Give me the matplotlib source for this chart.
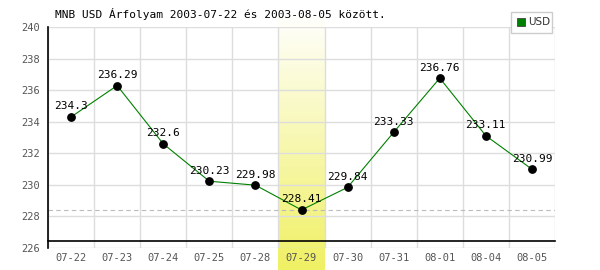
import numpy as np
import matplotlib.pyplot as plt
from matplotlib.patches import Rectangle

dates = ["07-22", "07-23", "07-24", "07-25", "07-28", "07-29",
         "07-30", "07-31", "08-01", "08-04", "08-05"]
rates = [234.3, 236.29, 232.6, 230.23, 229.98, 228.41,
         229.84, 233.33, 236.76, 233.11, 230.99]
labels = ["234.3", "236.29", "232.6", "230.23", "229.98", "228.41",
          "229.84", "233.33", "236.76", "233.11", "230.99"]
yticks = [226, 228, 230, 232, 234, 236, 238, 240]
min_idx = 5

mono = "DejaVu Sans Mono"

fig = plt.figure(figsize=(6, 2.7), dpi=100)
ax = fig.add_axes([0.08, 0.0815, 0.845, 0.8185])

x = np.arange(len(dates))
ax.set_xlim(-0.5, len(dates) - 0.5)
ax.set_ylim(226, 240)

# highlighted day: vertical gradient band (white on top, yellow at bottom)
grad = np.linspace(0, 1, 256).reshape(-1, 1, 1)
white = np.array([1.0, 1.0, 1.0])
yellow = np.array([240, 240, 100]) / 255
img = np.clip(white + (yellow - white) * grad, 0, 1)
ax.imshow(img, extent=(min_idx - 0.5, min_idx + 0.5, 224.55, 240.9),
          aspect="auto", origin="upper", zorder=0, clip_on=False)

# grid
for v in yticks:
    ax.axhline(v, color="#dddddd", lw=1, zorder=1)
for i in range(len(dates) + 1):
    ax.axvline(i - 0.5, color="#dddddd", lw=1, zorder=1)
ax.axhline(rates[min_idx], color="#bbbbbb", lw=0.8, ls=(0, (4, 3)), zorder=1)

ax.plot(x, rates, color="#008000", lw=0.8, zorder=3)
ax.scatter(x, rates, s=28, color="black", zorder=4)

for xi, yi, t in zip(x, rates, labels):
    ax.annotate(t, (xi, yi), xytext=(0, 4), textcoords="offset points",
                ha="center", va="bottom", fontsize=8, family=mono, zorder=5)

for s in ["top", "right"]:
    ax.spines[s].set_visible(False)
ax.spines["left"].set_linewidth(1.2)
ax.spines["bottom"].set_linewidth(1.2)
ax.spines["bottom"].set_position(("data", 226.45))

ax.set_xticks(x)
ax.set_xticklabels(dates, family=mono, fontsize=7.5, color="#555555")
ax.set_yticks(yticks)
ax.set_yticklabels([str(v) for v in yticks], family=mono, fontsize=7.5, color="#555555")
ax.tick_params(length=0, pad=6)
ax.tick_params(axis="x", pad=9)
ax.patch.set_alpha(0)

fig.text(0.092, 0.947, "MNB USD Árfolyam 2003-07-22 és 2003-08-05 között.",
         family=mono, fontsize=8, ha="left", va="center")

# legend box
fig.patches.append(Rectangle((0.852, 0.878), 0.068, 0.078, transform=fig.transFigure,
                             facecolor="white", edgecolor="#cccccc", lw=1, zorder=10))
fig.patches.append(Rectangle((0.862, 0.902), 0.013, 0.03, transform=fig.transFigure,
                             facecolor="#008000", edgecolor="#444444", lw=0.6, zorder=11))
fig.text(0.88, 0.917, "USD", fontsize=7.5, color="#333333", ha="left", va="center", zorder=12)

fig.savefig("out.png", dpi=100)
